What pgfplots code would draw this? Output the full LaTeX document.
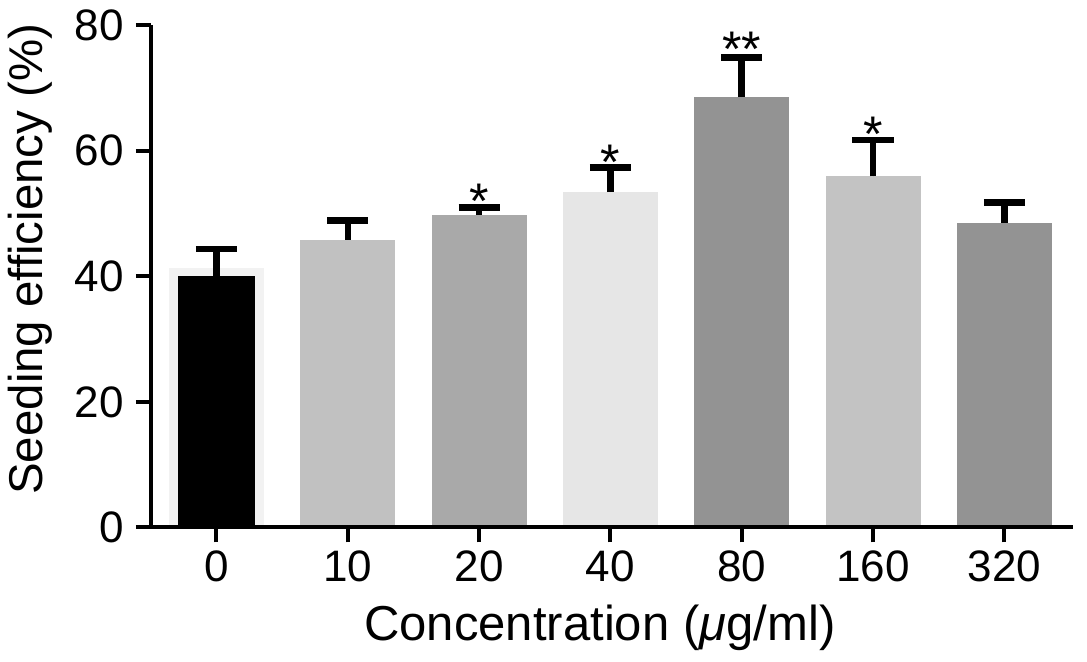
\documentclass[border=0pt]{standalone}
\usepackage{fontspec}
\setmainfont{Liberation Sans}
\usepackage{pgfplots}
\pgfplotsset{compat=1.18}
\definecolor{c0border}{HTML}{F2F2F2}
\definecolor{c10}{HTML}{C1C1C1}
\definecolor{c20}{HTML}{A9A9A9}
\definecolor{c40}{HTML}{E6E6E6}
\definecolor{c80}{HTML}{939393}
\definecolor{c160}{HTML}{C3C3C3}
\definecolor{c320}{HTML}{939393}
\pgfplotsset{
  eb/.style={error bars/.cd, y dir=plus, y explicit,
    error bar style={line width=3.3pt, black},
    error mark options={line width=3.3pt, black, mark size=10.3pt, rotate=90}},
  bb/.style={ybar, bar width=0.724, bar shift=0pt, draw=none, fill=#1},
}
\begin{document}
\begin{tikzpicture}
\begin{axis}[name=ax, scale only axis, width=460.5pt, height=251pt,
  xmin=-0.5, xmax=6.52, ymin=0, ymax=80,
  axis x line*=bottom, axis y line*=left,
  axis line style={line width=2pt, black, -},
  every tick/.style={line width=2pt, black},
  tick align=outside, major tick length=7.5pt,
  xtick={0,...,6}, xticklabels={0,10,20,40,80,160,320},
  ytick={0,20,40,60,80},
  /pgf/number format/assume math mode=true,
  ticklabel style={font=\fontsize{22}{26}\selectfont},
  xticklabel style={yshift=-0.5pt},
  yticklabel style={xshift=-2.5pt},
  xlabel={Concentration (\textit{μ}g/ml)},
  ylabel={Seeding efficiency (\%)},
  xlabel style={font=\fontsize{24.5}{28}\selectfont, at={(axis description cs:0.487,0)}, anchor=base, yshift=-56.5pt},
  ylabel style={font=\fontsize{23.7}{28}\selectfont, at={(axis description cs:-0.1179,0.534)}, anchor=base},
  clip=false, axis on top,
]
\addplot[bb=c0border] coordinates {(0,41.3)};
\addplot[ybar, bar width=0.58, bar shift=0pt, fill=black, draw=none, eb] coordinates {(0,40.0) +- (0,4.35)};
\addplot[bb=c10, eb] coordinates {(1,45.8) +- (0,3.1)};
\addplot[bb=c20, eb] coordinates {(2,49.8) +- (0,1.1)};
\addplot[bb=c40, eb] coordinates {(3,53.4) +- (0,3.9)};
\addplot[bb=c80, eb] coordinates {(4,68.5) +- (0,6.3)};
\addplot[bb=c160, eb] coordinates {(5,55.9) +- (0,5.8)};
\addplot[bb=c320, eb] coordinates {(6,48.5) +- (0,3.2)};
\draw[line width=2pt] (axis cs:-0.5,0) -- ++(-8.35pt,0);
\node[font=\fontsize{25}{25}\selectfont, anchor=base] at (axis cs:2,49.25) {*};
\node[font=\fontsize{25}{25}\selectfont, anchor=base] at (axis cs:3,55.35) {*};
\node[font=\fontsize{25}{25}\selectfont, anchor=base] at (axis cs:4,73.45) {**};
\node[font=\fontsize{25}{25}\selectfont, anchor=base] at (axis cs:5,59.85) {*};
\end{axis}
\pgfresetboundingbox
\path (ax.south west) ++(-75.35pt,-67pt) rectangle ([xshift=7.15pt,yshift=12.5pt]ax.north east);
\end{tikzpicture}
\end{document}
